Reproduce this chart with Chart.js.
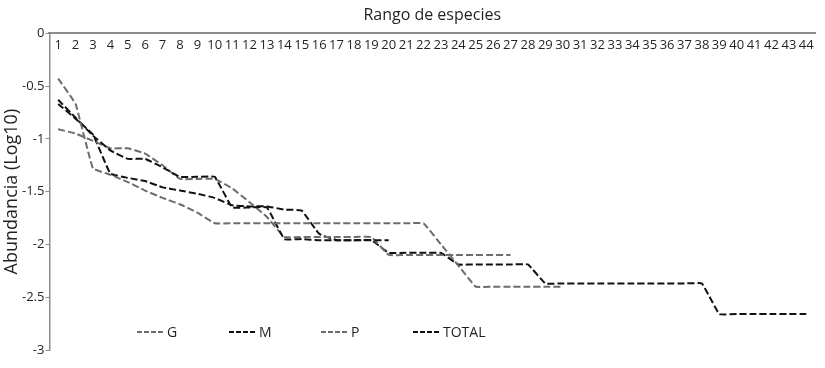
<!DOCTYPE html>
<html>
<head>
<meta charset="utf-8">
<script src="https://cdn.jsdelivr.net/npm/chart.js@4.4.1/dist/chart.umd.min.js"></script>
<style>
  body { margin: 0; background: #fff; }
  #wrap { position: relative; width: 825px; height: 368px; }
  #legend { position: absolute; left: 137px; top: 322px; display: flex; font: 14px "Open Sans", sans-serif; color: #231f20; }
  #legend .item { width: 92px; display: flex; align-items: center; }
  #legend svg { margin-right: 4px; }
</style>
</head>
<body>
<div id="wrap">
  <canvas id="chart"></canvas>
  <div id="legend"></div>
</div>
<script>
const ranks = ["1","2","3","4","5","6","7","8","9","10","11","12","13","14","15","16","17","18","19","20","21","22",
  "23","24","25","26","27","28","29","30","31","32","33","34","35","36","37","38","39","40","41","42","43","44"];

const seriesNames = ["G", "M", "P", "TOTAL"];

const gValues = [-0.43, -0.67, -1.28, -1.34, -1.41, -1.49, -1.56, -1.62, -1.70, -1.80,
  -1.80, -1.80, -1.80, -1.80, -1.80, -1.80, -1.80, -1.80, -1.80, -1.80,
  -1.80, -1.80, -2.00, -2.20, -2.40, -2.40, -2.40, -2.40, -2.40, -2.40];

const mValues = [-0.63, -0.80, -0.97, -1.11, -1.19, -1.19, -1.27, -1.36, -1.36, -1.36,
  -1.65, -1.65, -1.65, -1.95, -1.95, -1.96, -1.96, -1.96, -1.96, -1.96];

const pValues = [-0.91, -0.95, -1.02, -1.09, -1.09, -1.14, -1.25, -1.38, -1.38, -1.38,
  -1.47, -1.60, -1.74, -1.93, -1.93, -1.93, -1.93, -1.93, -1.93, -2.10,
  -2.10, -2.10, -2.10, -2.10, -2.10, -2.10, -2.10];

const totalValues = [-0.67, -0.81, -0.96, -1.33, -1.37, -1.40, -1.46, -1.49, -1.52, -1.56,
  -1.63, -1.64, -1.64, -1.67, -1.68, -1.90, -1.96, -1.96, -1.96, -2.08,
  -2.08, -2.08, -2.08, -2.19, -2.19, -2.19, -2.19, -2.19, -2.37, -2.37,
  -2.37, -2.37, -2.37, -2.37, -2.37, -2.37, -2.37, -2.37, -2.66, -2.66,
  -2.66, -2.66, -2.66, -2.66];

const seriesColors = ["#6d6d6d", "#111111", "#6d6d6d", "#111111"];

const font = "'Open Sans', sans-serif";
const textColor = "#231f20";
const axisColor = "#8c8c8c";

const allValues = [gValues, mValues, pValues, totalValues];

const datasets = seriesNames.map((name, i) => ({
  label: name,
  data: allValues[i],
  borderColor: seriesColors[i],
  backgroundColor: seriesColors[i],
  borderWidth: 2,
  borderDash: [7, 3],
  pointRadius: 0,
  tension: 0.08,
  fill: false
}));

new Chart(document.getElementById("chart"), {
  type: "line",
  data: { labels: ranks, datasets: datasets },
  options: {
    responsive: true,
    maintainAspectRatio: false,
    animation: false,
    layout: { padding: { top: 4, right: 10, bottom: 18, left: 3 } },
    plugins: {
      legend: { display: false },
      tooltip: { enabled: false }
    },
    scales: {
      x: {
        position: "top",
        offset: true,
        grid: { display: true, drawOnChartArea: false, drawTicks: false },
        border: { display: true, color: axisColor, width: 2 },
        ticks: {
          mirror: true,
          padding: 4,
          autoSkip: false,
          maxRotation: 0,
          color: textColor,
          font: { family: font, size: 13 }
        },
        title: {
          display: true,
          text: "Rango de especies",
          color: textColor,
          font: { family: font, size: 16 },
          padding: { top: 2, bottom: 0 }
        }
      },
      y: {
        min: -3,
        max: 0,
        ticks: {
          stepSize: 0.5,
          padding: 1,
          color: textColor,
          font: { family: font, size: 13 },
          callback: v => String(v)
        },
        grid: { display: true, drawOnChartArea: false, drawTicks: true, tickLength: 4, color: axisColor },
        border: { display: true, color: axisColor, width: 1.5 },
        title: {
          display: true,
          text: "Abundancia (Log10)",
          color: textColor,
          font: { family: font, size: 18, lineHeight: 1 },
          padding: { top: 0, bottom: 0 }
        }
      }
    }
  }
});

// legend drawn as HTML so it can sit inside the plot, like the original
const legendEl = document.getElementById("legend");
datasets.forEach(ds => {
  const item = document.createElement("div");
  item.className = "item";
  item.innerHTML = `<svg width="26" height="6"><line x1="0" y1="3" x2="26" y2="3" stroke="${ds.borderColor}"
    stroke-width="2" stroke-dasharray="5,2"/></svg><span>${ds.label}</span>`;
  legendEl.appendChild(item);
});
</script>
</body>
</html>
